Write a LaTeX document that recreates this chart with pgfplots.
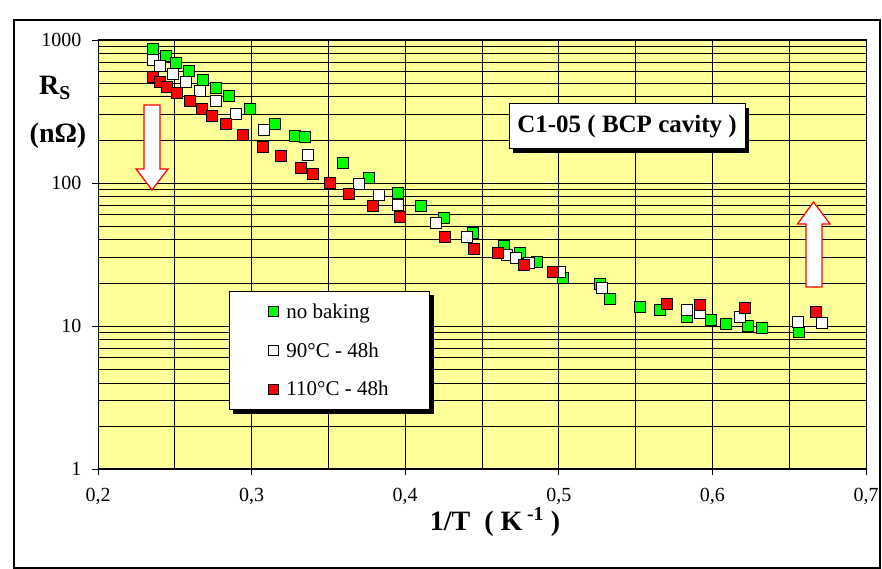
\documentclass[border=0pt]{standalone}
\usepackage{fontspec}
\setmainfont{Liberation Serif}
\usepackage{pgfplots}
\pgfplotsset{compat=1.18}
\usetikzlibrary{shadows}
\definecolor{plotbg}{HTML}{FFFF99}
\definecolor{nobake}{HTML}{00FF00}
\definecolor{bakeA}{HTML}{FFFFFF}
\definecolor{bakeB}{HTML}{FF0000}

% surface resistance vs inverse temperature, one table per baking condition
\pgfplotstableread{
x y
0.2360 870
0.2440 776
0.2506 694
0.2590 610
0.2680 525
0.2767 462
0.2850 404
0.2987 330
0.3150 259
0.3280 214
0.3350 210
0.3597 137
0.3767 108
0.3950 84.7
0.4100 68.8
0.4250 57.2
0.4440 45.0
0.4645 36.5
0.4745 32.4
0.4860 28.0
0.5027 21.6
0.5270 19.7
0.5335 15.4
0.5529 13.6
0.5659 12.9
0.5833 11.5
0.5988 11.1
0.6090 10.4
0.6230 10.0
0.6320 9.7
0.6565 9.1
}\nobaking
\pgfplotstableread{
x y
0.2360 725
0.2406 658
0.2490 575
0.2574 506
0.2665 443
0.2767 374
0.2900 304
0.3080 235
0.3366 156
0.3700 98.4
0.3830 82.8
0.3950 70.2
0.4203 52.3
0.4400 41.7
0.4665 31.4
0.4720 29.7
0.4805 27.7
0.5007 23.7
0.5280 18.6
0.5833 12.9
0.5920 12.3
0.6177 11.5
0.6560 10.6
0.6713 10.5
}\bakeninety
\pgfplotstableread{
x y
0.2360 554
0.2406 506
0.2450 467
0.2513 426
0.2600 373
0.2676 330
0.2745 294
0.2836 257
0.2945 218
0.3075 180
0.3190 155
0.3321 127
0.3397 115.6
0.3508 99.5
0.3636 83.4
0.3790 68.8
0.3967 58.1
0.4257 41.7
0.4445 34.4
0.4605 32.2
0.4775 26.7
0.4960 23.9
0.5705 14.2
0.5918 14.0
0.6213 13.4
0.6674 12.6
}\bakehundredten

\begin{document}
\begin{tikzpicture}[x=1pt,y=1pt]
\useasboundingbox (0,0) rectangle (882,569);
\draw[black, line width=1.2pt] (14,1) rectangle (880,549);
\begin{axis}[
  at={(98pt,100pt)}, anchor=south west,
  scale only axis, width=768pt, height=429pt,
  xmin=0.2, xmax=0.7,
  ymode=log, ymin=1, ymax=1000,
  axis background/.style={fill=plotbg},
  xtick={0.2,0.3,0.4,0.5,0.6,0.7},
  xticklabels={{0,2},{0,3},{0,4},{0,5},{0,6},{0,7}},
  minor xtick={0.25,0.35,0.45,0.55,0.65},
  ytick={1,10,100,1000},
  yticklabels={1,10,100,1000},
  xtick pos=bottom, ytick pos=left,
  grid=both,
  major grid style={black, line width=0.9pt},
  minor grid style={black, line width=0.8pt},
  tick align=outside, major tick length=6pt, minor tick length=0pt,
  tick style={black, line width=0.9pt},
  axis line style={black, line width=1pt},
  xticklabel style={font=\fontsize{20}{24}\selectfont, yshift=-10pt},
  yticklabel style={font=\fontsize{20}{24}\selectfont, xshift=-7pt},
  legend cell align=left,
  legend style={
    at={(0.1706,0.415)}, anchor=north west,
    draw=black, line width=0.8pt, fill=white,
    font=\fontsize{21}{25}\selectfont,
    inner xsep=39pt, inner ysep=10.5pt, row sep=18.5pt,
    /tikz/every odd column/.append style={column sep=6pt},
    drop shadow={shadow xshift=4pt, shadow yshift=-4pt, fill=black, opacity=1},
  },
  legend image code/.code={\draw[#1, mark size=5pt] plot coordinates {(0pt,0pt)};},
  every axis plot/.append style={only marks, mark=square*, mark size=5.5pt},
]
\addplot[mark options={draw=black, line width=0.9pt, fill=nobake}] table {\nobaking};
\addlegendentry{no baking}
\addplot[mark options={draw=black, line width=0.9pt, fill=bakeA}] table {\bakeninety};
\addlegendentry{90°C - 48h}
\addplot[mark options={draw=black, line width=0.9pt, fill=bakeB}] table {\bakehundredten};
\addlegendentry{110°C - 48h}
\end{axis}

% axis titles
\node[font=\fontsize{28}{32}\selectfont\bfseries] at (55,481) {R\textsubscript{S}};
\node[font=\fontsize{28}{32}\selectfont\bfseries] at (58,433) {(nΩ)};
\node[font=\fontsize{28}{32}\selectfont\bfseries] at (495,47) {1/T\ \ ( K\,\textsuperscript{-1}\ )};

% sample label
\node[draw=black, line width=1pt, fill=white, minimum width=236pt, minimum height=45pt,
      drop shadow={shadow xshift=4pt, shadow yshift=-4pt, fill=black, opacity=1},
      font=\fontsize{25}{30}\selectfont\bfseries] at (627,442.5) {C1-05 ( BCP cavity )};

% trend arrows
\draw[red, line width=1.2pt, fill=white]
  (144,464) -- (160,464) -- (160,400) -- (168,400) -- (152,379) -- (136,400) -- (144,400) -- cycle;
\draw[red, line width=1.2pt, fill=white]
  (806,282) -- (822,282) -- (822,345) -- (830,345) -- (813.5,367) -- (797.5,345) -- (806,345) -- cycle;
\end{tikzpicture}
\end{document}
